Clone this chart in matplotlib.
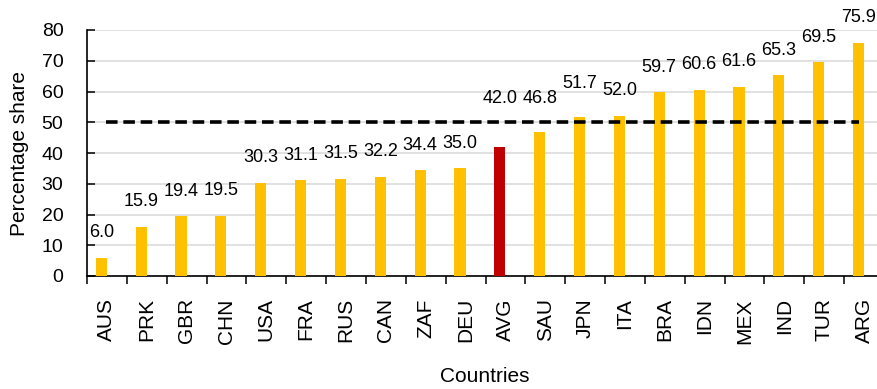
import matplotlib.pyplot as plt
import numpy as np

plt.rcParams['font.family'] = ['Liberation Sans', 'DejaVu Sans']

# Data
countries = ['AUS', 'PRK', 'GBR', 'CHN', 'USA', 'FRA', 'RUS', 'CAN', 'ZAF', 'DEU',
             'AVG', 'SAU', 'JPN', 'ITA', 'BRA', 'IDN', 'MEX', 'IND', 'TUR', 'ARG']
shares = [6.0, 15.9, 19.4, 19.5, 30.3, 31.1, 31.5, 32.2, 34.4, 35.0,
          42.0, 46.8, 51.7, 52.0, 59.7, 60.6, 61.6, 65.3, 69.5, 75.9]
threshold = 50

gold = '#FFC000'
red = '#C00000'

# a few labels were nudged up above the dashed line in the original (points)
label_lift = {'AVG': 29, 'SAU': 18, 'JPN': 18}

fig = plt.figure(figsize=(8.77, 3.89), dpi=100)
ax = fig.add_axes((87 / 877, 1 - 276 / 389, 797 / 877, 246 / 389))

x = np.arange(len(countries))
bar_x = x - 0.14  # bars sit a bit left of category centre, like the Excel original
colors = [red if c == 'AVG' else gold for c in countries]
ax.bar(bar_x, shares, width=0.28, color=colors, zorder=3)

for c, bx, v in zip(countries, bar_x, shares):
    ax.annotate(f'{v:.1f}', xy=(bx, v), xytext=(0, label_lift.get(c, 12)),
                textcoords='offset points', ha='center', va='bottom',
                fontsize=13, zorder=5)

# 50% reference line
ax.plot([x[0] - 0.03, x[-1] - 0.13], [threshold, threshold], color='black',
        linestyle=(0, (3.2, 1.6)), linewidth=2.6, zorder=4)

ax.set_xlim(-0.5, len(countries) - 0.5)
ax.set_ylim(0, 80)
ax.set_yticks(range(0, 81, 10))
ax.yaxis.grid(True, color='#D9D9D9', linewidth=1.1, zorder=0)
ax.set_axisbelow(True)

# ticks between categories on x
ax.set_xticks(x)
ax.set_xticklabels(countries, rotation=90, fontsize=15)
ax.tick_params(axis='x', length=0, pad=16)
ax.set_xticks(np.arange(-0.5, len(countries), 1), minor=True)
ax.tick_params(axis='x', which='minor', length=6, width=1.1, direction='out')
ax.tick_params(axis='y', length=6, width=1.1, direction='in', labelsize=14, pad=17)

for side in ['top', 'right']:
    ax.spines[side].set_visible(False)
for side in ['left', 'bottom']:
    ax.spines[side].set_linewidth(1.2)

ax.set_ylabel('Percentage share', fontsize=15)
ax.yaxis.set_label_coords(-(87 - 29) / 797, 0.5)
ax.set_xlabel('Countries', fontsize=15)
ax.xaxis.set_label_coords((485 - 87) / 797, -(367 - 276) / 246)

fig.savefig('out.png', dpi=100)
